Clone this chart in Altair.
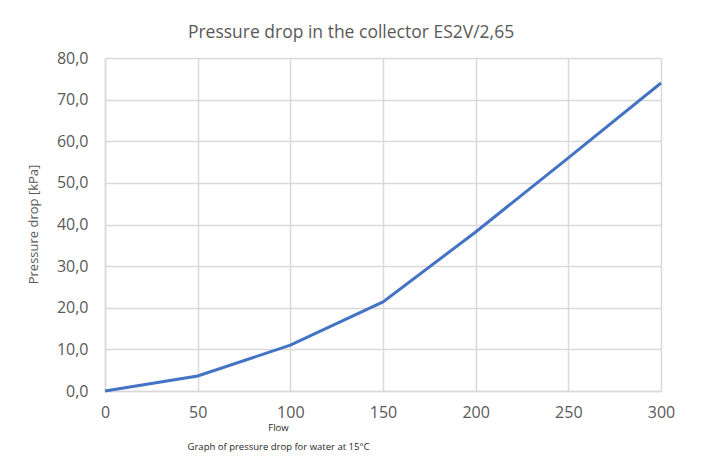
import altair as alt
import pandas as pd

flow = [0, 50, 100, 150, 200, 250, 300]
pressure_drop = [0.0, 3.6, 11.0, 21.4, 38.2, 56.0, 74.0]

df = pd.DataFrame({"Flow": flow, "Pressure": pressure_drop})

FONT = "Open Sans"
GREY = "#595959"

chart = alt.Chart(df).mark_line(color="#4472C4", strokeWidth=3).encode(
    x=alt.X(
        "Flow:Q",
        scale=alt.Scale(domain=[0, 300], nice=False),
        axis=alt.Axis(
            values=[0, 50, 100, 150, 200, 250, 300],
            title=["Flow", "Graph of pressure drop for water at 15°C"],
            titleX=173,
            titleY=31,
            titleAlign="center",
            titleBaseline="top",
            titleFontSize=9.5,
            titleFontWeight="normal",
            titleLineHeight=19,
            titleColor="#262626",
            labelFontSize=16,
            labelColor=GREY,
            labelPadding=13,
            labelFlush=False,
            ticks=False,
            domainColor="#d9d9d9",
            domainWidth=1.5,
            gridColor="#d9d9d9",
            gridWidth=1.5,
        ),
    ),
    y=alt.Y(
        "Pressure:Q",
        scale=alt.Scale(domain=[0, 80], nice=False),
        axis=alt.Axis(
            values=[0, 10, 20, 30, 40, 50, 60, 70, 80],
            labelExpr="replace(format(datum.value, '.1f'), '.', ',')",
            title="Pressure drop [kPa]",
            titleX=-72,
            titleY=166,
            titleAngle=270,
            titleAlign="center",
            titleBaseline="middle",
            titleFontSize=13,
            titleFontWeight="normal",
            titleColor=GREY,
            labelFontSize=16,
            labelColor=GREY,
            labelPadding=17,
            labelFlush=False,
            ticks=False,
            domainColor="#d9d9d9",
            domainWidth=1.5,
            gridColor="#d9d9d9",
            gridWidth=1.5,
        ),
    ),
).properties(
    width=556,
    height=333,
    autosize=alt.AutoSizeParams(type="none"),
    padding={"left": 97, "top": 50, "right": 30, "bottom": 62},
    title=alt.TitleParams(
        "Pressure drop in the collector ES2V/2,65",
        fontSize=17.5,
        fontWeight="normal",
        color=GREY,
        font=FONT,
        anchor="middle",
        dx=-32,
        offset=9,
    ),
).configure(
    font=FONT,
).configure_view(
    stroke=None,
)

chart.save("out.html", embed_options={"renderer": "svg", "actions": False})
